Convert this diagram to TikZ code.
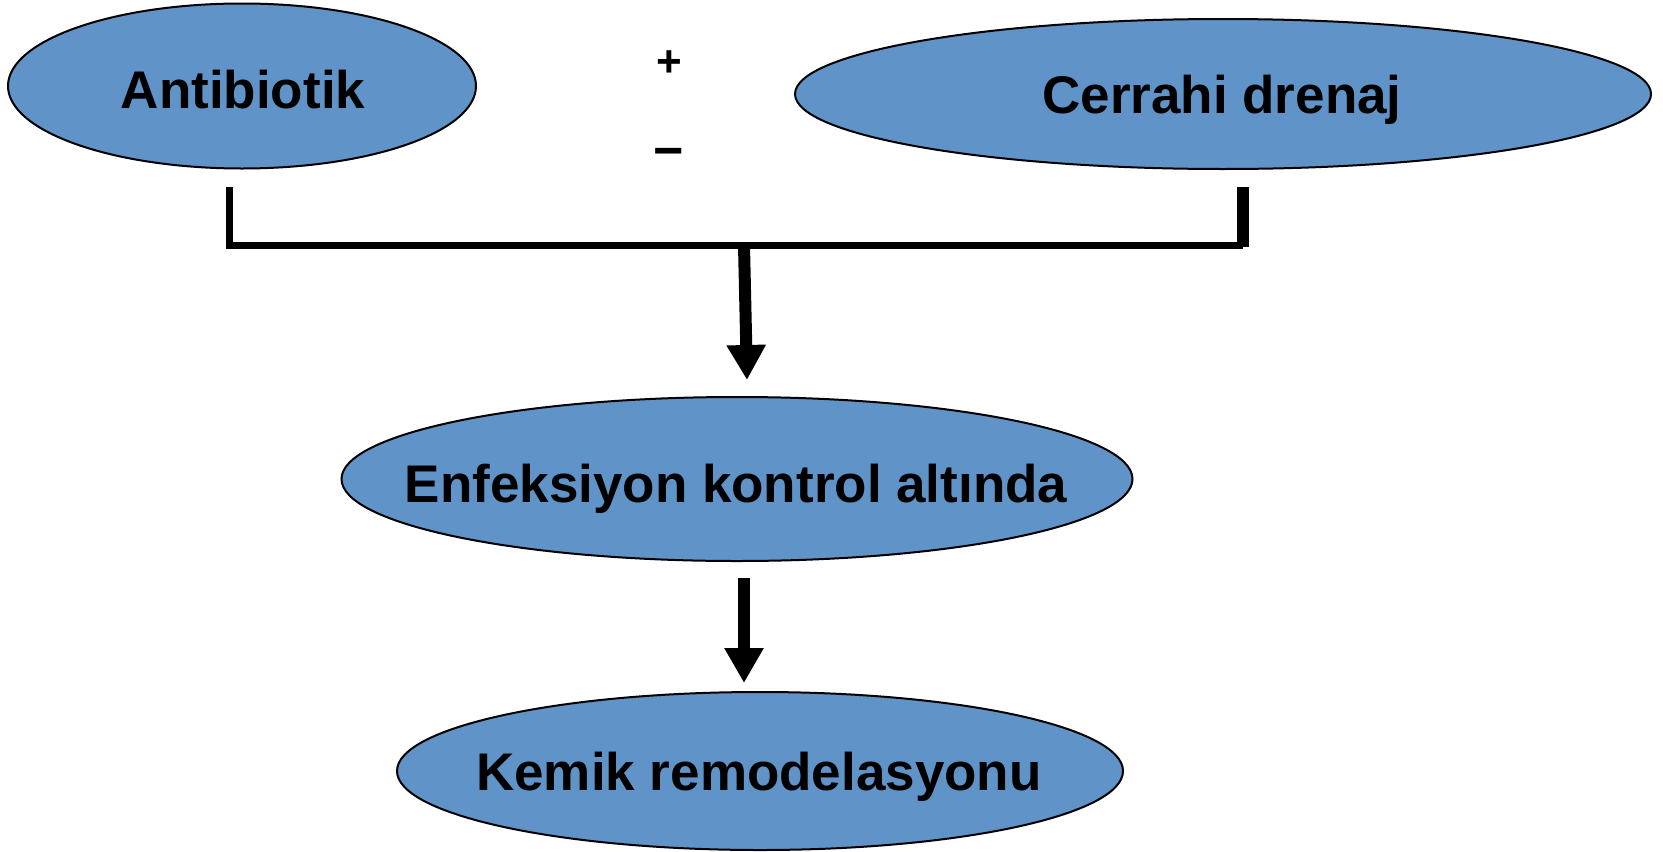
\documentclass[tikz,border=0pt]{standalone}
\usepackage{fontspec}
\setmainfont{Liberation Sans}
\usetikzlibrary{arrows.meta,shapes.geometric}
\definecolor{ellblue}{RGB}{96,148,200}

\begin{document}
\begin{tikzpicture}[line cap=butt,line join=miter,x=0.5pt,y=-0.5pt,
	ell/.style={ellipse,draw=black,line width=1pt,fill=ellblue,inner sep=0pt},
	etext/.style={anchor=base,inner sep=0pt,font=\fontsize{26.5}{30}\selectfont\bfseries},
	sign/.style={inner sep=0pt,font=\fontsize{22}{24}\selectfont\bfseries},
	brack/.style={line width=3.5pt},
	bigarrow/.style={line width=6pt,-{Triangle[length=17.5pt,width=18.5pt]}}]
	\useasboundingbox (0,0) rectangle (1663,851);
	% ellipses
	\node[ell,minimum width=234pt,minimum height=82.5pt] (anti) at (242,86) {};
	\node[ell,minimum width=428pt,minimum height=75pt] (cerr) at (1223,94) {};
	\node[ell,minimum width=395.5pt,minimum height=82pt] (enf) at (737,479) {};
	\node[ell,minimum width=363pt,minimum height=79pt] (kem) at (760,771) {};
	% texts
	\node[etext] (antitxt) at (243,108) {Antibiotik};
	\node[etext] (cerrtxt) at (1222,113) {Cerrahi drenaj};
	\node[etext] (enftxt) at (736,502) {Enfeksiyon kontrol altında};
	\node[etext] (kemtxt) at (759,790) {Kemik remodelasyonu};
	% plus / minus
	\node[sign] (plus) at (669,64) {+};
	\node[sign,font=\fontsize{26}{28}\selectfont\bfseries] (minus) at (669,158) {−};
	% bracket
	\coordinate (lt) at (229.5,187);
	\coordinate (lb) at (229.5,245.5);
	\coordinate (rt) at (1243,187);
	\coordinate (rb) at (1243,245.5);
	\coordinate (mid) at (744,245.5);
	\draw[brack] (lt) -- (lb) -- (rb);
	\draw[line width=6pt] (rt) -- ([yshift=-0.9pt]rb);
	% arrows
	\coordinate (a2) at (744,578);
	\draw[bigarrow] (mid) -- (747,380);
	\draw[bigarrow] (a2) -- (744,683);
\end{tikzpicture}
\end{document}
